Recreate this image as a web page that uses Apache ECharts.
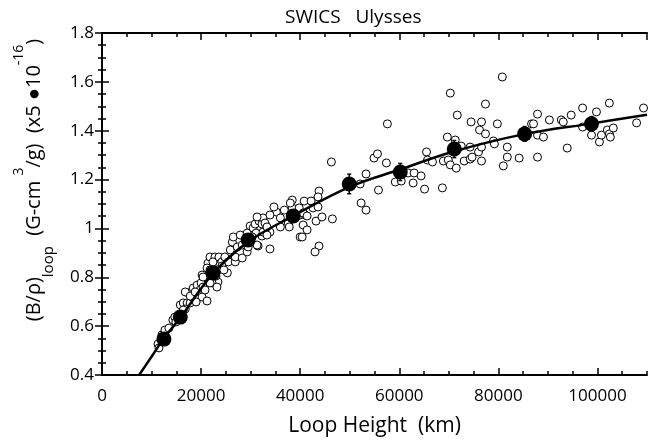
<!DOCTYPE html>
<html>
<head>
<meta charset="utf-8">
<script src="https://cdn.jsdelivr.net/npm/echarts@6/dist/echarts.min.js"></script>
<style>
  html, body { margin: 0; padding: 0; background: #fff; }
  #chart { width: 655px; height: 442px; }
</style>
</head>
<body>
<div id="chart"></div>
<script>
// open circles: individual events (loop height km, B/rho)
var openX = [
  11300, 11500, 12100, 12700, 13500, 14300, 14700, 15800, 16400, 17200,
  16800, 17800, 18200, 17400, 18400, 19200, 19800, 19400, 20200, 21200,
  19000, 20000, 20800, 20200, 21400, 21800, 22800, 23800, 25300, 23400,
  22200, 16800, 21200, 20400, 21800, 23200, 22400, 23600, 24200, 24800,
  25500, 24200, 23400, 20400,
  16400, 14900, 17800, 18800, 20800, 21800, 23000, 24600, 26300, 27500,
  28700, 29900, 31900, 33900, 32500, 35200, 36800, 39200,
  25900, 26300, 26500, 26900, 26900, 27300, 27900, 28300, 28300, 29300,
  29300, 29500, 30500, 30900, 31100, 31500, 31700, 32300, 32300, 32500,
  32500, 32900, 33300, 33900, 33900, 34700, 36000, 37600, 38400, 38400,
  40000, 38000, 37800, 36000, 40000, 31300, 33300, 30300, 31300,
  40800, 42200, 43800, 43600, 42600, 41000, 39800, 40600, 41400, 43200,
  44400, 46500, 40400, 43800, 43000, 43600, 40600, 41400, 46300, 52100,
  53300, 52300, 53300, 54900, 55600, 57400, 55800, 59200, 57600,
  60400, 61800, 63000, 62800, 64400, 65100, 65500, 65700, 66700, 68700,
  68900, 69700, 70300, 69900, 70300, 71300, 71500, 71700, 72500, 73100,
  74300, 74300, 74500, 74700, 76000, 76200, 76600, 76600, 76600, 77400,
  77400, 79000, 79200, 79800, 80800, 81000, 81800, 81800, 84200, 86700,
  87100, 87900, 87900, 89100, 87900, 90300, 92700, 93100, 93900, 94700,
  97000, 97000, 98800, 99800, 100400, 100800, 102400, 102000, 102400, 103200,
  102600, 107900, 109300
];
var openY = [
  0.527, 0.511, 0.564, 0.584, 0.592, 0.625, 0.637, 0.687, 0.695, 0.695,
  0.670, 0.695, 0.719, 0.736, 0.756, 0.768, 0.748, 0.727, 0.719, 0.703,
  0.699, 0.777, 0.801, 0.809, 0.858, 0.883, 0.883, 0.850, 0.818, 0.781,
  0.777, 0.740, 0.838, 0.760, 0.777, 0.760, 0.863, 0.883, 0.863, 0.883,
  0.863, 0.846, 0.830, 0.801,
  0.666, 0.617, 0.723, 0.740, 0.748, 0.830, 0.805, 0.830, 0.912, 0.953,
  0.969, 1.010, 0.994, 0.985, 1.026, 1.067, 1.075, 1.075,
  0.912, 0.944, 0.965, 0.863, 0.883, 0.924, 0.973, 0.932, 0.879, 0.981,
  0.904, 0.924, 1.002, 1.018, 0.981, 0.928, 1.030, 1.018, 0.969, 1.043,
  0.985, 1.022, 1.006, 1.055, 0.916, 1.088, 1.006, 1.022, 1.116, 1.084,
  0.965, 1.104, 1.006, 1.043, 1.055, 1.047, 0.973, 0.965, 0.932,
  1.112, 1.112, 1.153, 1.129, 1.084, 1.055, 1.084, 1.014, 0.994, 1.030,
  1.047, 1.039, 0.965, 0.928, 0.904, 1.088, 1.063, 1.051, 1.272, 1.182,
  1.223, 1.104, 1.075, 1.288, 1.305, 1.268, 1.157, 1.190, 1.428,
  1.194, 1.227, 1.227, 1.186, 1.215, 1.161, 1.313, 1.280, 1.272, 1.166,
  1.276, 1.374, 1.554, 1.280, 1.260, 1.362, 1.247, 1.464, 1.337, 1.276,
  1.284, 1.333, 1.436, 1.292, 1.313, 1.403, 1.436, 1.333, 1.276, 1.509,
  1.387, 1.358, 1.346, 1.428, 1.620, 1.256, 1.333, 1.292, 1.288, 1.428,
  1.428, 1.468, 1.382, 1.374, 1.292, 1.444, 1.444, 1.436, 1.329, 1.464,
  1.493, 1.415, 1.382, 1.477, 1.354, 1.382, 1.513, 1.403, 1.387, 1.411,
  1.374, 1.432, 1.493
];

// filled circles: binned means with error bars
var meanX = [12500, 15800, 22400, 29500, 38600, 49900, 60200, 71100, 85300, 98800];
var meanY = [0.547, 0.637, 0.818, 0.953, 1.051, 1.182, 1.231, 1.325, 1.387, 1.428];
var meanErr = [0.02, 0.02, 0.02, 0.02, 0.02, 0.04, 0.035, 0.035, 0.03, 0.03];

// fitted curve
var fitX = [7500, 10000, 12500, 16000, 22400, 29500, 38500, 50000, 60000, 71000, 85000, 99000, 110000];
var fitY = [0.40, 0.475, 0.55, 0.64, 0.815, 0.945, 1.05, 1.17, 1.24, 1.315, 1.385, 1.43, 1.465];

var FONT = "'Open Sans', sans-serif";

function pairs(xs, ys) {
  var out = [];
  for (var i = 0; i < xs.length; i++) out.push([xs[i], ys[i]]);
  return out;
}
var meanData = [];
for (var i = 0; i < meanX.length; i++) meanData.push([meanX[i], meanY[i], meanErr[i]]);

/*x axes: main ticks + a second axis only for the short 5000 ticks*/
function xFrame(pos, main) {
  return {
    type: 'value', position: pos, min: 0, max: 110000,
    interval: main ? 20000 : 5000,
    axisLine: { show: main, lineStyle: { color: '#000', width: 2 } },
    axisTick: { show: true, inside: true, length: main ? 7 : 4, lineStyle: { color: '#000', width: 1.5 } },
    axisLabel: { show: false },
    splitLine: { show: false }
  };
}
function yFrame(pos) {
  return {
    type: 'value', position: pos, min: 0.4, max: 1.8, interval: 0.2,
    axisLine: { show: true, lineStyle: { color: '#000', width: 2 } },
    axisTick: { show: true, inside: true, length: 7, lineStyle: { color: '#000', width: 1.5 } },
    minorTick: { show: true, splitNumber: 4, length: 4, lineStyle: { color: '#000', width: 1.5 } },
    axisLabel: { show: false },
    splitLine: { show: false }
  };
}

var xBottom = xFrame('bottom', true);
xBottom.axisLabel = {
  show: true, margin: 13, color: '#000', fontSize: 17, fontFamily: FONT, showMaxLabel: false,
  formatter: function (v) { return String(v); }
};
xBottom.name = 'Loop Height  (km)';
xBottom.nameLocation = 'middle';
xBottom.nameGap = 41;
xBottom.nameTextStyle = { color: '#000', fontSize: 21, fontFamily: FONT };

var yLeft = yFrame('left');
yLeft.axisLabel = { show: true, margin: 8, color: '#000', fontSize: 17, fontFamily: FONT };

var chart = echarts.init(document.getElementById('chart'));
var option = {
  backgroundColor: '#fff',
  animation: false,
  title: {
    text: 'SWICS   Ulysses',
    left: 280, top: 3,
    textStyle: { color: '#000', fontSize: 19, fontWeight: 'normal', fontFamily: FONT }
  },
  grid: { left: 102, right: 8, top: 33, bottom: 67 },
  xAxis: [xBottom, xFrame('top', true), xFrame('bottom', false), xFrame('top', false)],
  yAxis: [yLeft, yFrame('right')],
  graphic: [{
    type: 'text',
    x: 34, y: 180,
    rotation: Math.PI / 2,
    style: {
      text: '{m|(B/ρ)}{sub|loop}{m|  (G-cm }{sup|3}{m|/g)  (x5 ●10}{sup|-16}{m|)}',
      fill: '#000',
      fontSize: 20,
      fontFamily: FONT,
      align: 'center',
      verticalAlign: 'middle',
      rich: {
        m: { fontSize: 20, fontFamily: FONT, lineHeight: 44, verticalAlign: 'middle' },
        sub: { fontSize: 15, fontFamily: FONT, verticalAlign: 'bottom', lineHeight: 16 },
        sup: { fontSize: 14, fontFamily: FONT, verticalAlign: 'top', lineHeight: 14 }
      }
    }
  }],
  series: [
    {
      type: 'scatter',
      xAxisIndex: 0, yAxisIndex: 0,
      data: pairs(openX, openY),
      symbol: 'circle',
      symbolSize: 8,
      itemStyle: { color: '#fff', borderColor: '#000', borderWidth: 1, opacity: 1 },
      z: 2,
      silent: true
    },
    {
      type: 'line',
      xAxisIndex: 0, yAxisIndex: 0,
      data: pairs(fitX, fitY),
      smooth: 0.4,
      showSymbol: false,
      clip: true,
      lineStyle: { color: '#000', width: 2.5 },
      z: 3,
      silent: true
    },
    {
      type: 'custom',
      xAxisIndex: 0, yAxisIndex: 0,
      data: meanData,
      z: 4,
      silent: true,
      renderItem: function (params, api) {
        var x = api.value(0), y = api.value(1), e = api.value(2);
        var top = api.coord([x, y + e]);
        var bot = api.coord([x, y - e]);
        var st = { stroke: '#000', lineWidth: 1.5 };
        return {
          type: 'group',
          children: [
            { type: 'line', shape: { x1: top[0], y1: top[1], x2: bot[0], y2: bot[1] }, style: st },
            { type: 'line', shape: { x1: top[0] - 2, y1: top[1], x2: top[0] + 2, y2: top[1] }, style: st },
            { type: 'line', shape: { x1: bot[0] - 2, y1: bot[1], x2: bot[0] + 2, y2: bot[1] }, style: st }
          ]
        };
      }
    },
    {
      type: 'scatter',
      xAxisIndex: 0, yAxisIndex: 0,
      data: pairs(meanX, meanY),
      symbol: 'circle',
      symbolSize: 15,
      itemStyle: { color: '#000', opacity: 1 },
      z: 5,
      silent: true
    }
  ]
};
chart.setOption(option);
</script>
</body>
</html>
